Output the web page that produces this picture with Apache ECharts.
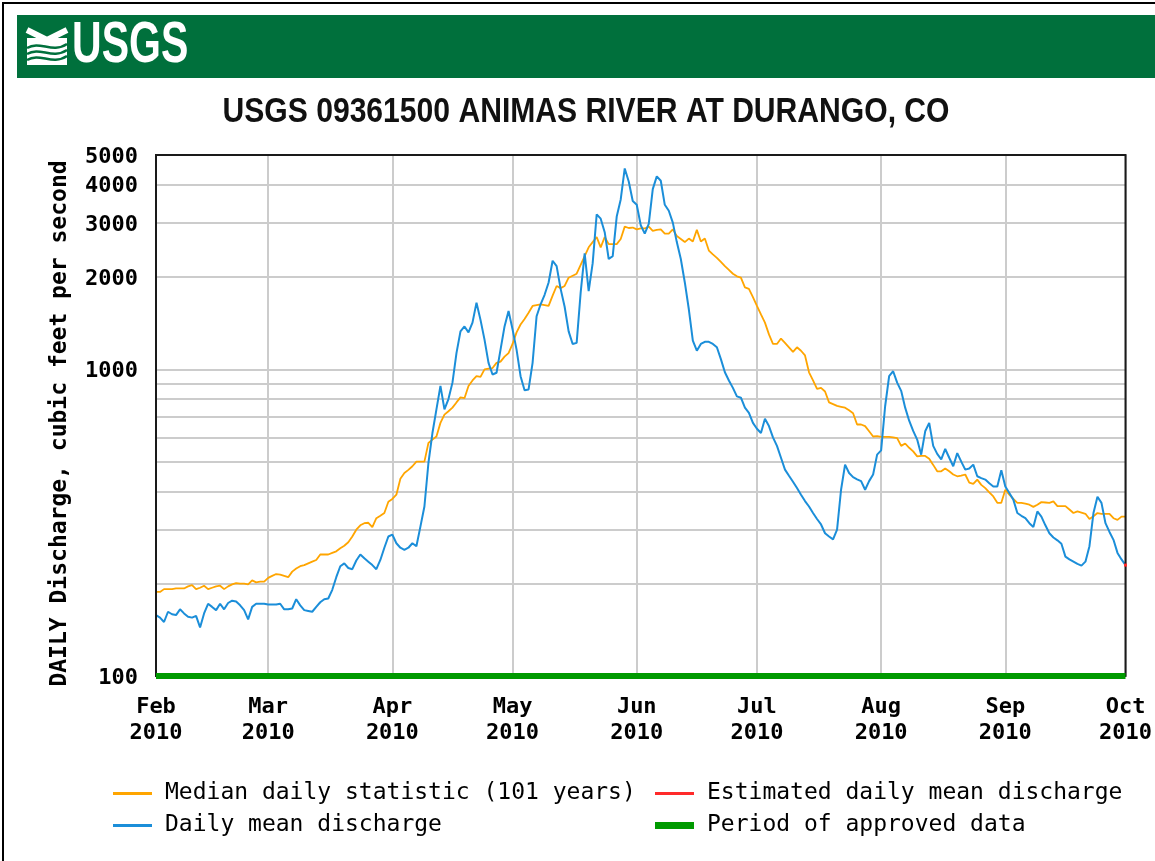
<!DOCTYPE html>
<html>
<head>
<meta charset="utf-8">
<script src="https://cdn.jsdelivr.net/npm/echarts@6/dist/echarts.min.js"></script>
<style>
html,body{margin:0;padding:0;background:#fff;}
#chart{width:1155px;height:861px;}
</style>
</head>
<body>
<div id="chart"></div>
<script>
// ---------------- data ----------------
const startYear = 2010, startMonth = 2, startDay = 1;   // Feb 1 2010
const dayCount = 243;                                     // through Oct 1 2010
const monthNames = ['Jan','Feb','Mar','Apr','May','Jun','Jul','Aug','Sep','Oct','Nov','Dec'];

// Median daily statistic (101 years), cfs
const medianDaily = [
 188,188,192,192,192,193,193,193,196,198,
 192,194,197,192,194,196,197,192,196,199,
 201,200,200,199,205,202,203,203,209,212,
 215,214,212,210,219,224,228,230,233,236,
 239,249,249,249,252,255,261,266,273,285,
 300,310,315,316,306,327,333,340,370,378,
 390,440,459,470,483,500,500,500,575,590,
 604,669,712,730,750,780,810,805,883,920,
 950,945,1000,1005,1010,1050,1060,1100,1130,1210,
 1320,1400,1460,1530,1610,1620,1630,1620,1610,1740,
 1870,1840,1870,1990,2020,2050,2190,2340,2500,2600,
 2700,2500,2700,2560,2560,2560,2660,2920,2890,2900,
 2860,2880,2880,2920,2830,2850,2860,2770,2770,2860,
 2720,2660,2600,2670,2610,2850,2610,2670,2440,2370,
 2310,2240,2170,2110,2050,2010,1990,1850,1830,1720,
 1610,1510,1420,1300,1210,1210,1260,1220,1180,1140,
 1180,1150,1110,978,920,864,870,847,780,770,
 760,755,750,735,719,661,661,653,628,604,
 606,602,602,602,600,597,563,573,555,540,
 520,522,522,511,488,465,465,475,465,454,
 448,450,454,427,423,437,420,410,397,385,
 367,367,405,390,378,367,367,365,362,356,
 362,369,368,367,371,358,358,358,349,340,
 344,341,338,325,332,340,338,338,338,327,
 323,331,331
];

// Daily mean discharge 2010, cfs
const dischargeDaily = [
 158,155,150,162,159,158,165,160,156,155,
 157,144,160,172,168,164,172,165,173,176,
 175,170,164,153,168,172,172,172,171,171,
 171,172,165,165,166,178,170,164,163,162,
 168,174,178,179,191,210,228,233,225,223,
 238,249,242,236,230,223,239,262,285,289,
 271,262,258,262,271,265,307,357,495,620,
 740,883,740,800,905,1130,1330,1380,1320,1420,
 1650,1450,1250,1050,962,975,1160,1380,1550,1350,
 1160,950,855,860,1050,1490,1630,1750,1920,2260,
 2170,1830,1600,1330,1210,1220,1780,2390,1800,2220,
 3200,3100,2800,2290,2340,3150,3580,4520,4100,3540,
 3440,2950,2770,2980,3870,4260,4120,3440,3290,3010,
 2600,2290,1920,1570,1240,1150,1210,1230,1230,1210,
 1180,1080,978,920,870,816,808,750,721,669,
 640,620,690,653,600,563,515,471,450,430,
 410,390,372,357,340,325,312,292,285,279,
 300,405,489,459,445,438,432,405,432,454,
 527,544,758,950,986,905,851,750,680,630,
 590,527,628,669,563,530,509,550,515,483,
 533,500,471,475,489,448,442,437,425,415,
 415,469,415,395,376,340,333,327,315,306,
 344,331,310,292,283,277,270,245,240,236,
 232,229,236,265,340,384,367,315,295,278,
 252,240,230
];

// Estimated daily mean discharge
const estimatedDates = ['2010-10-01'];
const estimatedValues = [230];

// Period of approved data
const approvedPeriod = ['2010-02-01', '2010-10-01'];
const approvedLevel = 100;

// y-axis gridlines and labels (log scale)
const yGridValues = [100,200,300,400,500,600,700,800,900,1000,2000,3000,4000,5000];
const yLabelValues = [100,1000,2000,3000,4000,5000];

const chartTitle = 'USGS 09361500 ANIMAS RIVER AT DURANGO, CO';
const yAxisTitle = 'DAILY Discharge, cubic feet per second';
const seriesNames = {
  median: 'Median daily statistic (101 years)',
  estimated: 'Estimated daily mean discharge',
  daily: 'Daily mean discharge',
  approved: 'Period of approved data'
};

// ---------------- build ----------------
const dates = [];
for (let i = 0; i < dayCount; i++) {
  const d = new Date(Date.UTC(startYear, startMonth - 1, startDay + i));
  dates.push(d.toISOString().slice(0, 10));
}
const isMonthStart = (i, v) => String(v).slice(8) === '01';

const mono = '"DejaVu Sans Mono", "Liberation Mono", monospace';
const C = {
  median: '#ffa500', daily: '#1b8ed9', est: '#ff2a2a', approved: '#009a00',
  grid: '#cccccc', header: '#00703c'
};

const chart = echarts.init(document.getElementById('chart'), null, {renderer: 'canvas'});

const legendCommon = {
  icon: 'rect', itemWidth: 39, itemHeight: 3, padding: 0, selectedMode: false,
  textStyle: {fontFamily: mono, fontSize: 23, color: '#000', padding: [0, 0, 0, 8]}
};

const option = {
  animation: false,
  backgroundColor: '#ffffff',
  grid: {left: 156, right: 26, top: 155, bottom: 185, show: true,
         borderColor: '#1a1a1a', borderWidth: 2, backgroundColor: 'transparent', z: 4},
  xAxis: {
    type: 'category', data: dates, boundaryGap: false,
    axisLine: {show: false}, axisTick: {show: false},
    axisLabel: {
      interval: isMonthStart,
      formatter: v => monthNames[+v.slice(5, 7) - 1] + '\n' + v.slice(0, 4),
      color: '#000', fontFamily: mono, fontWeight: 'bold', fontSize: 22, lineHeight: 26, margin: 18
    },
    splitLine: {show: true, interval: isMonthStart, lineStyle: {color: C.grid, width: 2}}
  },
  yAxis: {
    type: 'log', logBase: 10, min: 100, max: 5000,
    axisLine: {show: false}, axisTick: {show: false},
    axisLabel: {show: false}, splitLine: {show: false},
    name: yAxisTitle, nameLocation: 'middle', nameGap: 84,
    nameTextStyle: {fontFamily: mono, fontWeight: 'bold', fontSize: 23, color: '#000',
                    padding: [0, 16, 0, 0]}
  },
  legend: [
    Object.assign({}, legendCommon, {data: [seriesNames.median], left: 113, top: 782}),
    Object.assign({}, legendCommon, {data: [seriesNames.estimated], left: 655, top: 782}),
    Object.assign({}, legendCommon, {data: [seriesNames.daily], left: 113, top: 814}),
    Object.assign({}, legendCommon, {data: [seriesNames.approved], left: 655, top: 814, itemHeight: 7})
  ],
  series: [
    {
      name: seriesNames.approved, type: 'line',
      data: approvedPeriod.map(d => [d, approvedLevel]),
      showSymbol: false, clip: false, silent: true, z: 6,
      lineStyle: {color: C.approved, width: 6}, itemStyle: {color: C.approved},
      markLine: {
        z: 1, silent: true, symbol: 'none', animation: false,
        lineStyle: {color: C.grid, width: 2, type: 'solid'},
        label: {show: false},
        emphasis: {disabled: true},
        data: yGridValues.map(v => ({
          yAxis: v,
          label: {
            show: yLabelValues.includes(v), position: 'start', distance: 18,
            formatter: () => String(v), offset: [0, 2],
            color: '#000', fontFamily: mono, fontWeight: 'bold', fontSize: 22
          }
        }))
      }
    },
    {
      name: seriesNames.median, type: 'line', data: medianDaily,
      showSymbol: false, z: 2, silent: true,
      lineStyle: {color: C.median, width: 1.8}, itemStyle: {color: C.median}
    },
    {
      name: seriesNames.daily, type: 'line', data: dischargeDaily,
      showSymbol: false, z: 3, silent: true,
      lineStyle: {color: C.daily, width: 2}, itemStyle: {color: C.daily}
    },
    {
      name: seriesNames.estimated, type: 'line',
      data: estimatedDates.map((d, i) => [d, estimatedValues[i]]),
      showSymbol: true, symbol: 'rect', symbolSize: 3, clip: false, z: 6, silent: true,
      lineStyle: {color: C.est, width: 2}, itemStyle: {color: C.est}
    }
  ],
  graphic: [
    {type: 'rect', z: 0, shape: {x: 3, y: 3, width: 1200, height: 900},
     style: {fill: 'none', stroke: '#000', lineWidth: 2}},
    {type: 'rect', z: 1, shape: {x: 17, y: 15, width: 1160, height: 63}, style: {fill: C.header}},
    // logo mark
    {type: 'rect', z: 2, shape: {x: 27, y: 38, width: 40, height: 27}, style: {fill: '#fff'}},
    {type: 'polyline', z: 2, shape: {points: [[27, 30], [47, 40], [67, 30]]},
     style: {stroke: '#fff', lineWidth: 6, fill: 'none'}},
    {type: 'bezierCurve', z: 3, shape: {x1: 27, y1: 48, x2: 67, y2: 44, cpx1: 40, cpy1: 40, cpx2: 52, cpy2: 54},
     style: {stroke: C.header, lineWidth: 2.5, fill: 'none'}},
    {type: 'bezierCurve', z: 3, shape: {x1: 27, y1: 54, x2: 67, y2: 50, cpx1: 40, cpy1: 46, cpx2: 52, cpy2: 60},
     style: {stroke: C.header, lineWidth: 2.5, fill: 'none'}},
    {type: 'bezierCurve', z: 3, shape: {x1: 27, y1: 60, x2: 67, y2: 56, cpx1: 40, cpy1: 52, cpx2: 52, cpy2: 66},
     style: {stroke: C.header, lineWidth: 2.5, fill: 'none'}},
    {type: 'text', z: 3, x: 72, y: 46, scaleX: 0.72,
     style: {text: 'USGS', fill: '#fff', font: 'bold 57px "Liberation Sans", Arial, sans-serif',
             align: 'left', verticalAlign: 'middle'}},
    {type: 'text', z: 3, x: 586, y: 112, scaleX: 0.86,
     style: {text: chartTitle, fill: '#111', font: 'bold 35px "Liberation Sans", Arial, sans-serif',
             align: 'center', verticalAlign: 'middle'}}
  ]
};

chart.setOption(option);
</script>
</body>
</html>
